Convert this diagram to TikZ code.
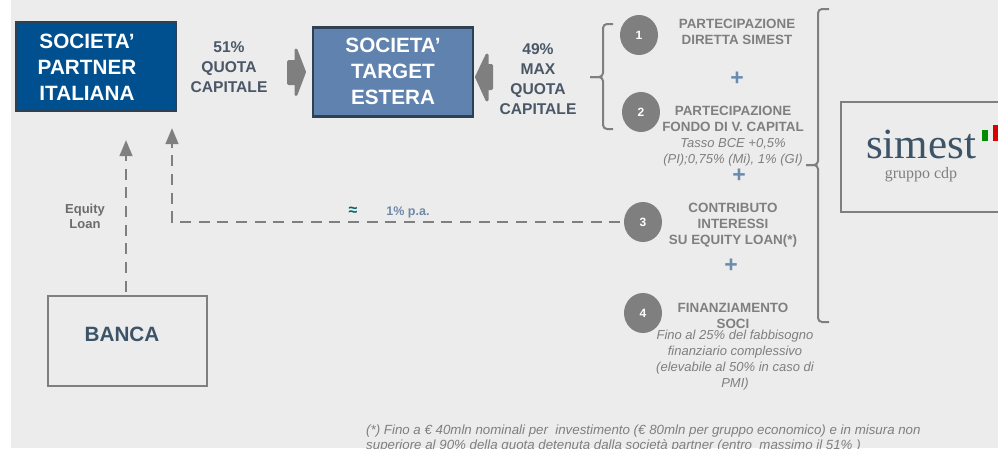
\documentclass[tikz,border=0pt]{standalone}
\usepackage{fontspec}
\setmainfont{Liberation Sans}
\newfontfamily\logofont{Liberation Serif}
\usetikzlibrary{arrows.meta, shapes.geometric}
\definecolor{pagegrey}{HTML}{ECECEC}
\definecolor{linegrey}{HTML}{7F7F7F}
\definecolor{slatetext}{HTML}{4A5766}
\definecolor{navyfill}{HTML}{00508F}
\definecolor{steelfill}{HTML}{5F82AE}
\definecolor{boxedge}{HTML}{2F4052}
\definecolor{plusblue}{HTML}{6A8BB0}
\definecolor{logoblue}{HTML}{3D5468}
\tikzset{
	company style/.style={
		draw=boxedge,
		line width=2.5pt,
		minimum width=160pt,
		minimum height=89pt
	},
	company text style/.style={
		align=center,
		text=white,
		font=\fontsize{20.7}{26}\selectfont\bfseries
	},
	share style/.style={
		align=center,
		text=slatetext,
		font=\fontsize{15.6}{20}\selectfont\bfseries
	},
	title style/.style={
		align=center,
		text=linegrey,
		font=\fontsize{13.4}{16}\selectfont\bfseries
	},
	note style/.style={
		align=center,
		text=linegrey,
		font=\fontsize{13}{16}\selectfont\itshape
	},
	plus style/.style={
		text=plusblue,
		font=\fontsize{23}{23}\selectfont\bfseries
	},
	number style/.style={
		ellipse,
		fill=linegrey,
		text=white,
		inner sep=0pt,
		minimum width=38pt,
		minimum height=40pt,
		font=\fontsize{12}{12}\selectfont\bfseries
	},
	block arrow style/.style={
		fill=linegrey,
		draw=linegrey,
		line width=3pt,
		line join=round
	},
	dashed link style/.style={
		linegrey,
		line width=2.7pt,
		dash pattern=on 10.9pt off 7.77pt,
		dash phase=15.2pt,
		-{Triangle[length=16pt,width=12.5pt]}
	},
	bracket style/.style={
		linegrey,
		line width=2pt,
		rounded corners=4pt
	}
}

\begin{document}
\begin{tikzpicture}[x=1pt, y=-1pt]
		
		% --- 1. Page and Background ---
		\useasboundingbox (0,0) rectangle (998,448);
		\fill[pagegrey] (11,0) rectangle (998,448);
		
		
		% --- 2. The Two Companies ---
		\node[company style, fill=navyfill] (partner) at (96,66.5) {};
		\node[company text style] (partnertext) at (87,67.5) {SOCIETA’\\PARTNER\\ITALIANA};
		\node[company style, fill=steelfill] (target) at (393,72) {};
		\node[company text style] (targettext) at (393,71) {SOCIETA’\\TARGET\\ESTERA};
		
		% Shares on either side of the target
		\node[share style] (shareleft) at (229,67.5) {51\%\\QUOTA\\CAPITALE};
		\node[share style] (shareright) at (538,79.5) {49\%\\MAX\\QUOTA\\CAPITALE};
		
		\fill[block arrow style] (288.5,61.5) -- (296,61.5) -- (296,50) -- (304.5,72) -- (296,94.5) -- (296,83.5) -- (288.5,83.5) -- cycle;
		\fill[block arrow style] (491.5,65.5) -- (487,65.5) -- (487,55) -- (476.5,77) -- (487,100) -- (487,88.5) -- (491.5,88.5) -- cycle;
		
		
		% --- 3. The Bank ---
		\node[draw=linegrey, line width=2pt, minimum width=159pt, minimum height=90pt] (banca) at (127,341) {};
		\node[text=logoblue, font=\fontsize{20.7}{26}\selectfont\bfseries] (bancatext) at (122,334.5) {BANCA};
		
		
		% --- 4. Numbered Instruments ---
		\foreach \name/\x/\y/\num in {one/639/35/1, two/641/112/2, three/643/222/3, four/643/313/4} {
			\node[number style] (\name) at (\x,\y) {\num};
		}
		
		\node[title style] (diretta) at (737,32) {PARTECIPAZIONE\\DIRETTA SIMEST};
		\node[title style] (fondo) at (733,119) {PARTECIPAZIONE\\FONDO DI V. CAPITAL};
		\node[note style] (tasso) at (733,152.5) {Tasso BCE +0,5\%\\(PI);0,75\% (Mi), 1\% (GI)};
		\node[title style] (contributo) at (733,225.5) {CONTRIBUTO\\INTERESSI\\SU EQUITY LOAN(*)};
		\node[title style] (finanziamento) at (733,316) {FINANZIAMENTO\\SOCI};
		\node[note style] (fabbisogno) at (735,360.5) {Fino al 25\% del fabbisogno\\finanziario complessivo\\(elevabile al 50\% in caso di\\PMI)};
		
		\node[plus style] (plusone) at (737,79) {+};
		\node[plus style] (plustwo) at (739,176) {+};
		\node[plus style] (plusthree) at (731,266) {+};
		
		
		% --- 5. Dashed Links ---
		\coordinate (equitytip) at (126,140);
		\coordinate (interesttip) at (172,128);
		\draw[dashed link style] (banca.north -| equitytip) -- (equitytip);
		\draw[dashed link style] (three.west) -- (interesttip |- three.west) -- (interesttip);
		
		\node[align=center, text=linegrey!85!black, font=\fontsize{13}{15.5}\selectfont\bfseries] (equity) at (85,216.5) {Equity\\Loan};
		\node[text=teal!80!black, font=\fontsize{16}{16}\selectfont\bfseries] (approx) at (353,211) {≈};
		\node[text=plusblue!85!gray, font=\fontsize{12.5}{13}\selectfont\bfseries] (rate) at (408,212) {1\% p.a.};
		
		
		% --- 6. Brackets ---
		% Small one groups 1 and 2, large one groups all four
		\draw[bracket style] (613,24) -- (603,24) -- (603,77) -- (590,77);
		\draw[bracket style] (613,129) -- (603,129) -- (603,77) -- (590,77);
		\draw[bracket style] (829,9) -- (818,9) -- (818,165) -- (806,165);
		\draw[bracket style] (829,322) -- (818,322) -- (818,165) -- (806,165);
		
		
		% --- 7. The Logo Box ---
		\draw[linegrey, line width=2.5pt] (998,102) -- (841,102) -- (841,212) -- (998,212);
		\node[anchor=base, text=logoblue, font=\logofont\fontsize{43}{43}\selectfont] (simest) at (921,158) {simest};
		\node[text=linegrey, font=\logofont\fontsize{16}{16}\selectfont] (gruppo) at (921,175) {gruppo cdp};
		\fill[green!55!black] (982,130) rectangle (988,141);
		\fill[red!85!black] (993,125) rectangle (998,141);
		
		
		% --- 8. Footnote ---
		\node[anchor=north west, align=left, inner sep=0pt, text=linegrey, font=\fontsize{13.3}{15}\selectfont\itshape] (footnote) at (366,424.5) {
			(*) Fino a € 40mln nominali per\ \ investimento (€ 80mln per gruppo economico) e in misura non\\
			superiore al 90\% della quota detenuta dalla società partner (entro\ \ massimo il 51\% )
		};
		
	\end{tikzpicture}
\end{document}
